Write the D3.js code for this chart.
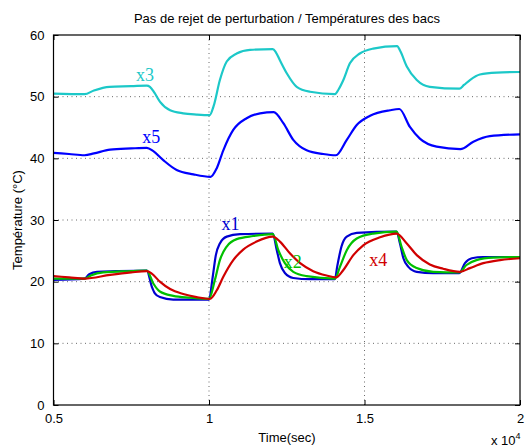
<!DOCTYPE html>
<html><head><meta charset="utf-8">
<script src="https://cdn.jsdelivr.net/npm/d3@7"></script>
<style>body{margin:0;background:#fff}svg{display:block}text{font-family:"Liberation Sans",Arial,sans-serif}</style>
</head><body>
<script>
const title = "Pas de rejet de perturbation / Températures des bacs";
const xLabel = "Time(sec)";
const yLabel = "Température (°C)";
const xTicks = [5000, 10000, 15000, 20000];
const xTickLabels = ["0.5", "1", "1.5", "2"];
const yTicks = [0, 10, 20, 30, 40, 50, 60];

const x3 = [[5000,50.5],[6000,50.4],[6300,51.0],[6800,51.6],[7500,51.7],[8000,51.8],[8100,51.6],[8250,50.6],[8420,49.2],[8750,47.8],[9170,47.3],[9600,47.1],[10020,47.0],[10150,48.5],[10350,52.7],[10570,55.7],[10890,57.0],[11320,57.6],[12050,57.7],[12150,57.2],[12280,55.9],[12500,53.8],[12820,51.6],[13250,50.8],[14050,50.4],[14170,51.2],[14320,52.7],[14530,55.4],[14850,57.0],[15280,57.8],[16050,58.2],[16150,57.4],[16360,54.9],[16680,52.7],[17100,51.6],[18050,51.3],[18200,51.9],[18390,52.7],[18710,53.6],[19250,53.9],[20000,54.0]];
const x5 = [[5000,40.9],[5500,40.7],[6000,40.5],[6300,40.8],[6820,41.4],[7500,41.6],[8000,41.7],[8200,41.2],[8530,39.7],[8960,38.1],[9500,37.4],[10050,37.0],[10250,38.4],[10460,41.3],[10780,44.6],[11210,46.5],[11640,47.3],[12080,47.5],[12390,45.7],[12710,43.0],[13140,41.3],[13670,40.7],[14080,40.5],[14430,43.0],[14750,45.4],[15180,46.9],[15820,47.8],[16120,48.0],[16460,45.1],[16780,43.2],[17320,41.9],[18080,41.5],[18500,42.7],[19030,43.6],[20000,43.9]];
const x1 = [[5000,20.3],[6000,20.5],[6150,21.2],[6400,21.6],[7000,21.7],[8000,21.8],[8160,19.2],[8260,18.1],[8420,17.5],[8850,17.1],[10000,17.1],[10120,20.8],[10220,24.3],[10350,26.2],[10570,27.3],[11000,27.7],[12050,27.8],[12180,25.1],[12280,23.0],[12440,21.4],[12710,20.6],[13250,20.4],[14050,20.4],[14120,22.4],[14260,25.7],[14430,27.3],[14750,27.9],[16030,28.1],[16140,26.2],[16250,23.8],[16410,22.4],[16680,21.6],[17210,21.4],[18050,21.4],[18230,23.0],[18450,23.8],[18820,24.0],[20000,24.0]];
const x2 = [[5000,20.5],[6000,20.5],[6200,21.0],[6600,21.5],[7500,21.7],[8000,21.8],[8210,19.7],[8420,18.4],[8850,17.7],[9390,17.4],[10000,17.2],[10190,20.3],[10350,23.5],[10570,25.7],[10890,26.9],[11420,27.4],[12050,27.7],[12230,25.1],[12440,23.0],[12710,21.6],[13140,20.9],[14050,20.5],[14210,22.4],[14430,25.1],[14750,27.0],[15280,27.8],[16030,28.1],[16190,25.7],[16360,23.5],[16680,22.2],[17210,21.6],[18050,21.5],[18280,22.7],[18600,23.5],[19140,23.9],[20000,24.0]];
const x4 = [[5000,20.9],[5500,20.7],[6000,20.5],[6820,21.1],[7500,21.5],[8000,21.7],[8160,21.3],[8420,20.0],[8750,18.8],[9170,18.0],[9600,17.5],[10030,17.2],[10250,18.6],[10460,20.8],[10780,23.5],[11100,25.2],[11530,26.5],[12050,27.3],[12280,26.5],[12600,24.6],[12930,23.0],[13350,21.7],[13780,21.0],[14080,20.7],[14320,21.9],[14640,24.3],[14960,25.9],[15500,27.2],[16030,27.8],[16360,26.2],[16680,24.3],[17100,22.8],[17530,22.1],[18070,21.6],[18390,22.2],[18820,23.0],[19360,23.5],[20000,23.8]];

const seriesNames = ["x3","x5","x1","x2","x4"];
const seriesData = [x3, x5, x1, x2, x4];
const seriesColors = ["#1cc8c8","#0000ff","#0000d0","#00c000","#d00000"];
const labelPos = [[7650,52.6],[7850,42.5],[10400,28.3],[12400,22.2],[15150,22.6]];

const W = 526, H = 448;
const m = {left:53.5, right:6, top:35, bottom:43};
const svg = d3.select("body").append("svg").attr("width", W).attr("height", H);
const x = d3.scaleLinear().domain([5000,20000]).range([m.left, W - m.right]);
const y = d3.scaleLinear().domain([0,60]).range([H - m.bottom, m.top]);

// grid
const g = svg.append("g");
g.selectAll(".gx").data(xTicks.slice(1,-1)).join("line")
  .attr("x1", d=>x(d)).attr("x2", d=>x(d)).attr("y1", y(0)).attr("y2", y(60))
  .attr("stroke","#444").attr("stroke-width",0.8).attr("stroke-dasharray","1,3.5");
g.selectAll(".gy").data(yTicks.slice(1,-1)).join("line")
  .attr("y1", d=>y(d)).attr("y2", d=>y(d)).attr("x1", x(5000)).attr("x2", x(20000))
  .attr("stroke","#444").attr("stroke-width",0.8).attr("stroke-dasharray","1,3.5");

// lines
const line = d3.line().x(d=>x(d[0])).y(d=>y(d[1])).curve(d3.curveMonotoneX);
seriesData.forEach((s,i)=>{
  svg.append("path").datum(s).attr("d", line).attr("fill","none")
    .attr("stroke", seriesColors[i]).attr("stroke-width",2.2).attr("stroke-linejoin","round");
});

// axes (box with inward ticks)
const fmtX = (d,i)=>xTickLabels[i];
const ax = d3.axisBottom(x).tickValues(xTicks).tickFormat(fmtX).tickSizeInner(-5).tickSizeOuter(0).tickPadding(9);
const axT = d3.axisTop(x).tickValues(xTicks).tickFormat("").tickSizeInner(-5).tickSizeOuter(0);
const ay = d3.axisLeft(y).tickValues(yTicks).tickSizeInner(-5).tickSizeOuter(0).tickPadding(9);
const ayR = d3.axisRight(y).tickValues(yTicks).tickFormat("").tickSizeInner(-5).tickSizeOuter(0);
function style(sel){ sel.selectAll("path").remove(); sel.selectAll("line").attr("stroke","#000");
  sel.selectAll("text").attr("fill","#000").style("font-size","13px").style("font-family","'Liberation Sans',Arial,sans-serif"); }
svg.append("g").attr("transform",`translate(0,${y(0)})`).call(ax).call(style);
svg.append("g").attr("transform",`translate(0,${y(60)})`).call(axT).call(style);
svg.append("g").attr("transform",`translate(${x(5000)},0)`).call(ay).call(style);
svg.append("g").attr("transform",`translate(${x(20000)},0)`).call(ayR).call(style);
svg.append("rect").attr("x", x(5000)).attr("y", y(60)).attr("width", x(20000)-x(5000)).attr("height", y(0)-y(60))
  .attr("fill","none").attr("stroke","#000").attr("stroke-width",1.2);

// series labels
seriesNames.forEach((n,i)=>{
  svg.append("text").attr("x", x(labelPos[i][0])).attr("y", y(labelPos[i][1]))
    .attr("fill", seriesColors[i]).style("font-family","'Liberation Serif','Times New Roman',serif").style("font-size","18px")
    .text(n);
});

// titles
svg.append("text").attr("x", 287).attr("y", 23).attr("text-anchor","middle").style("font-size","13px").text(title);
svg.append("text").attr("x", 287).attr("y", 442).attr("text-anchor","middle").style("font-size","13px").text(xLabel);
const ex = svg.append("text").attr("x", 491).attr("y", 445).style("font-size","13px");
ex.append("tspan").text("x 10");
ex.append("tspan").attr("dy",-6).style("font-size","9px").text("4");
svg.append("text").attr("transform",`translate(22,${(y(0)+y(60))/2}) rotate(-90)`).attr("text-anchor","middle").style("font-size","13px").text(yLabel);
</script>
</body></html>
